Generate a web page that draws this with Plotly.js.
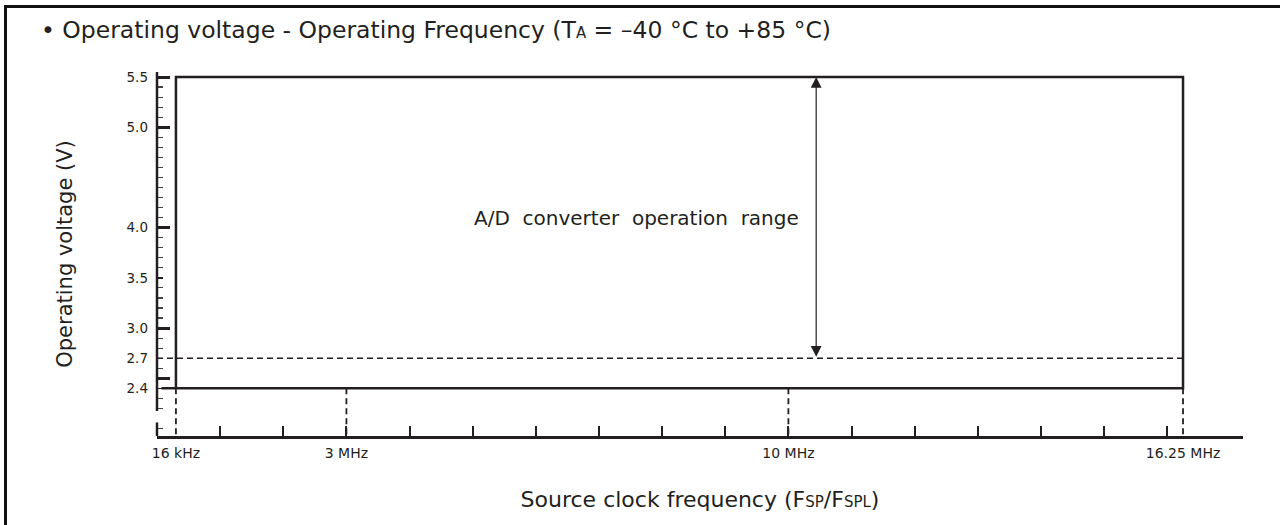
<!DOCTYPE html>
<html>
<head>
<meta charset="utf-8">
<script src="https://cdn.plot.ly/plotly-3.0.1.min.js"></script>
<style>
  html, body { margin: 0; padding: 0; background: #fff; overflow: hidden; }
  #wrap { position: relative; width: 1280px; height: 525px; overflow: hidden; }
  #chart { position: absolute; left: 0; top: 0; width: 1280px; height: 525px; }
  #frameTop { position: absolute; left: 4px; top: 5px; width: 1276px; height: 2.5px; background: #111; pointer-events: none; }
  #frameLeft { position: absolute; left: 4px; top: 5px; width: 2.5px; height: 520px; background: #111; pointer-events: none; }
</style>
</head>
<body>
<div id="wrap">
  <div id="chart"></div>
  <div id="frameTop"></div>
  <div id="frameLeft"></div>
</div>
<script>
// ---- chart values ----
const yTickVals      = [5.5, 5.0, 4.0, 3.5, 3.0, 2.7, 2.4];
const yTickText      = ['5.5', '5.0', '4.0', '3.5', '3.0', '2.7', '2.4'];
const yMajorTickVals = [5.5, 5.0, 4.0, 3.0, 2.5];
const freqMarks      = [0.3, 3, 10, 16.25];          // MHz (16 kHz is drawn just right of the axis, as in the figure)
const freqLabels     = ['16 kHz', '3 MHz', '10 MHz', '16.25 MHz'];
const freqMinorTicks = [1, 2, 3, 4, 5, 6, 7, 8, 9, 10, 11, 12, 13, 14, 15, 16];
const rangeFreq      = [0.3, 16.25];                 // operation range: 16 kHz .. 16.25 MHz
const rangeVolt      = [2.4, 5.5];                   // operation range: 2.4 V .. 5.5 V
const adcMinVolt     = 2.7;                          // A/D converter lower limit
const arrowFreq      = 10.44;                        // position of the A/D range arrow (MHz)
const adLabel        = 'A/D\u00A0\u00A0converter\u00A0\u00A0operation\u00A0\u00A0range';
const adLabelPos     = { x: 10.2, y: 4.1 };

// ---- axis geometry ----
const xRange = [0, 17.2];
const yRange = [1.925, 5.55];
const yAxisSegments = [[5.55, 2.175], [2.06, 1.925]];   // y axis drawn with a break
const yMinorTicks = [];
for (let i = 20; i <= 54; i++) { if (i !== 21) yMinorTicks.push(i / 10); }

const FONT = 'DejaVu Sans';
const INK = '#231f20';

// ---- traces ----
const traces = [];
// operating range box (bottom edge starts just right of the y axis)
traces.push({
  x: [0.07, rangeFreq[1], rangeFreq[1], rangeFreq[0], rangeFreq[0]],
  y: [rangeVolt[0], rangeVolt[0], rangeVolt[1], rangeVolt[1], rangeVolt[0]],
  mode: 'lines', line: { color: INK, width: 2.5 }, hoverinfo: 'skip'
});
// A/D lower limit dashed line
traces.push({
  x: [xRange[0], rangeFreq[1]], y: [adcMinVolt, adcMinVolt],
  mode: 'lines', line: { color: INK, width: 1.5, dash: '6px,4px' }, hoverinfo: 'skip'
});
// vertical dashed drop lines to the frequency axis
const dx = [], dy = [];
freqMarks.forEach(f => { dx.push(f, f, null); dy.push(rangeVolt[0], yRange[0], null); });
traces.push({
  x: dx, y: dy, mode: 'lines', line: { color: INK, width: 1.8, dash: '6px,4px' }, hoverinfo: 'skip'
});
// dummy trace for the overlaying tick axis
traces.push({ x: [null], y: [null], yaxis: 'y2', mode: 'lines', hoverinfo: 'skip' });

// ---- shapes: y axis line with break ----
const shapes = yAxisSegments.map(s => ({
  type: 'line', xref: 'paper', yref: 'y', x0: 0, x1: 0, y0: s[0], y1: s[1],
  line: { color: INK, width: 2.5 }
}));

const layout = {
  width: 1280, height: 525,
  margin: { l: 157, r: 37, t: 72, b: 89 },
  paper_bgcolor: '#fff', plot_bgcolor: '#fff',
  showlegend: false,
  font: { family: FONT, color: INK },
  title: {
    text: '•\u00A0Operating voltage - Operating Frequency (T<span style="font-size:15px">A</span> = –40 °C to +85 °C)',
    font: { family: FONT, size: 23.5, color: INK },
    xref: 'container', x: 41 / 1280, xanchor: 'left',
    yref: 'container', y: 0.944, yanchor: 'middle'
  },
  xaxis: {
    range: xRange, showgrid: false, zeroline: false,
    showline: true, linecolor: INK, linewidth: 2.5,
    tickmode: 'array', tickvals: freqMarks, ticktext: freqLabels,
    ticks: '', ticklabelstandoff: 3,
    tickfont: { family: FONT, size: 14, color: INK },
    minor: { tickmode: 'array', tickvals: freqMinorTicks, ticks: 'inside', ticklen: 10, tickwidth: 2, tickcolor: INK, showgrid: false },
    title: {
      text: 'Source clock frequency (F<span style="font-size:15px">SP</span>/F<span style="font-size:15px">SPL</span>)',
      font: { family: FONT, size: 22, color: INK }, standoff: 32
    },
    automargin: false, fixedrange: true
  },
  yaxis: {
    range: yRange, showgrid: false, zeroline: false, showline: false,
    tickmode: 'array', tickvals: yTickVals, ticktext: yTickText,
    ticks: 'inside', ticklen: 6, tickwidth: 1.3, tickcolor: INK,
    ticklabelstandoff: 8,
    tickfont: { family: FONT, size: 13.5, color: INK },
    minor: { tickmode: 'array', tickvals: yMinorTicks, ticks: 'inside', ticklen: 6, tickwidth: 1.2, tickcolor: '#444', showgrid: false },
    title: { text: 'Operating voltage (V)', font: { family: FONT, size: 21, color: INK }, standoff: 48 },
    automargin: false, fixedrange: true
  },
  yaxis2: {
    range: yRange, overlaying: 'y', anchor: 'x', side: 'left',
    showgrid: false, zeroline: false, showline: false, showticklabels: false,
    tickmode: 'array', tickvals: yMajorTickVals,
    ticks: 'inside', ticklen: 13, tickwidth: 3, tickcolor: INK,
    automargin: false, fixedrange: true
  },
  shapes: shapes,
  annotations: [
    {
      x: arrowFreq, y: rangeVolt[1], ax: arrowFreq, ay: adcMinVolt,
      xref: 'x', yref: 'y', axref: 'x', ayref: 'y',
      text: '', showarrow: true, arrowside: 'end+start',
      arrowhead: 2, startarrowhead: 2, arrowsize: 1.8, startarrowsize: 1.8,
      arrowwidth: 1.2, arrowcolor: INK, standoff: 0, startstandoff: 0
    },
    {
      x: adLabelPos.x, y: adLabelPos.y, xref: 'x', yref: 'y',
      text: adLabel, showarrow: false, xanchor: 'right', yanchor: 'middle',
      font: { family: FONT, size: 20, color: INK }
    }
  ]
};

Plotly.newPlot('chart', traces, layout, { staticPlot: true, displayModeBar: false });
</script>
</body>
</html>
